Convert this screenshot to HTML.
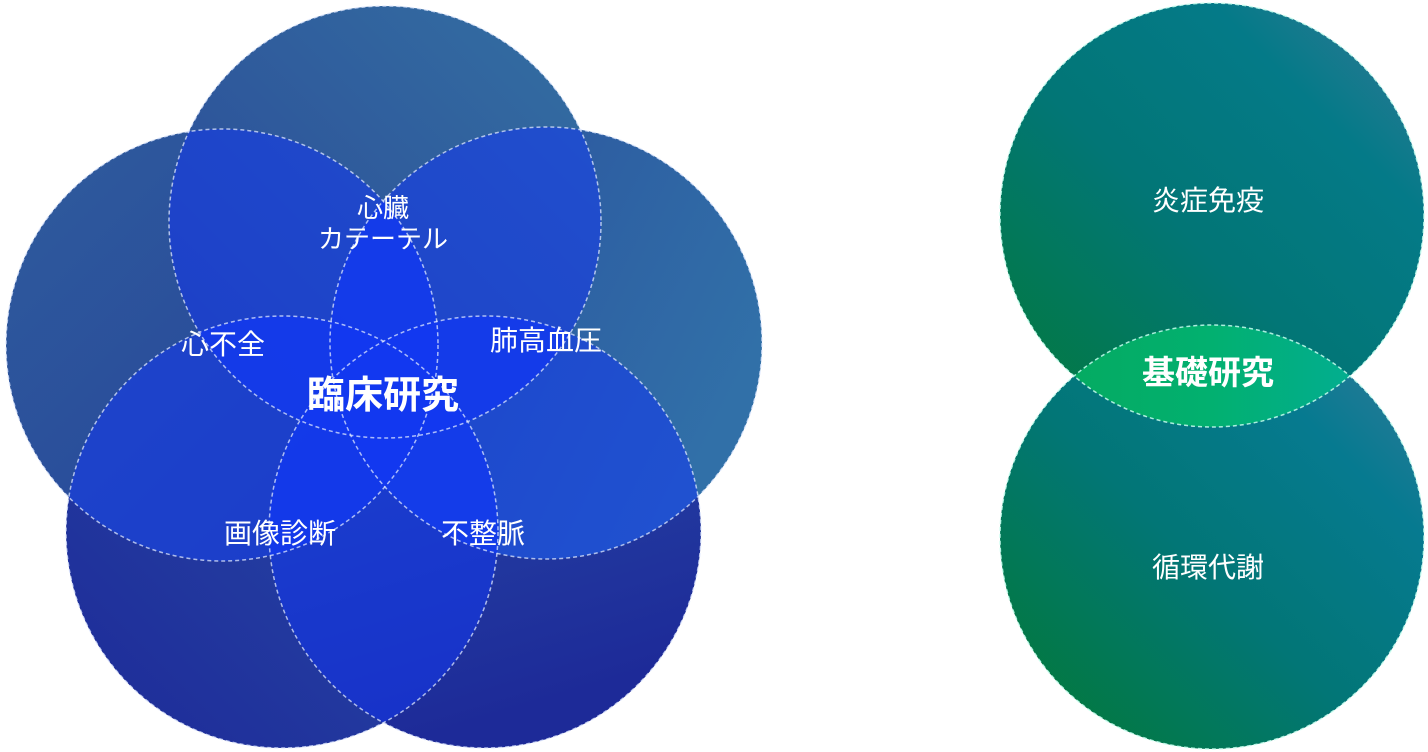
<!DOCTYPE html>
<html><head><meta charset="utf-8"><style>
html,body{margin:0;padding:0;background:#fff;width:1428px;height:752px;overflow:hidden}
svg{display:block}
text{font-family:"Liberation Sans","Noto Sans CJK JP",sans-serif;fill:#fff;text-anchor:middle}
</style></head><body>
<svg width="1428" height="752" viewBox="0 0 1428 752" xmlns="http://www.w3.org/2000/svg">
<defs>
<linearGradient id="gT" x1="0" y1="1" x2="1" y2="0"><stop offset="0" stop-color="#2a4596"/><stop offset="1" stop-color="#3470a2"/></linearGradient>
<linearGradient id="gL" x1="0" y1="0" x2="1" y2="1"><stop offset="0" stop-color="#2f5c9c"/><stop offset="1" stop-color="#25409a"/></linearGradient>
<linearGradient id="gR" x1="0" y1="0" x2="1" y2="0.5"><stop offset="0" stop-color="#2a4d9c"/><stop offset="1" stop-color="#3170a8"/></linearGradient>
<linearGradient id="gBL" x1="0" y1="1" x2="1" y2="0"><stop offset="0" stop-color="#1d2a98"/><stop offset="1" stop-color="#2a4ea8"/></linearGradient>
<linearGradient id="gBR" x1="0" y1="0" x2="0.3" y2="1"><stop offset="0" stop-color="#2a50aa"/><stop offset="1" stop-color="#1d2a98"/></linearGradient>
<linearGradient id="gG1" x1="0" y1="1" x2="1" y2="0"><stop offset="0" stop-color="#037a38"/><stop offset="0.45" stop-color="#027676"/><stop offset="0.75" stop-color="#047a88"/><stop offset="1" stop-color="#3a7898"/></linearGradient>
<linearGradient id="gG2" x1="0" y1="1" x2="1" y2="0"><stop offset="0" stop-color="#037a30"/><stop offset="0.45" stop-color="#027676"/><stop offset="0.75" stop-color="#067a90"/><stop offset="1" stop-color="#3a7a9c"/></linearGradient>
<linearGradient id="gLens" x1="0" y1="0" x2="1" y2="0"><stop offset="0" stop-color="#06a85a"/><stop offset="0.5" stop-color="#02b070"/><stop offset="1" stop-color="#02aca0"/></linearGradient>
<clipPath id="cT"><circle cx="385" cy="222" r="216"/></clipPath>
<clipPath id="cL"><circle cx="222" cy="345" r="216"/></clipPath>
<clipPath id="cR"><circle cx="546" cy="343" r="216"/></clipPath>
<clipPath id="cBL"><circle cx="282" cy="532" r="216"/></clipPath>
<clipPath id="cBR"><circle cx="485" cy="532" r="216"/></clipPath>
<clipPath id="cG1"><circle cx="1212" cy="215" r="212"/></clipPath>
</defs>
<circle cx="282" cy="532" r="216" fill="url(#gBL)"/>
<circle cx="485" cy="532" r="216" fill="url(#gBR)"/>
<circle cx="222" cy="345" r="216" fill="url(#gL)"/>
<circle cx="546" cy="343" r="216" fill="url(#gR)"/>
<circle cx="385" cy="222" r="216" fill="url(#gT)"/>
<g fill="#1238f0" fill-opacity="0.55">
<circle cx="222" cy="345" r="216" clip-path="url(#cT)"/>
<circle cx="546" cy="343" r="216" clip-path="url(#cT)"/>
<circle cx="282" cy="532" r="216" clip-path="url(#cT)"/>
<circle cx="485" cy="532" r="216" clip-path="url(#cT)"/>
<circle cx="546" cy="343" r="216" clip-path="url(#cL)"/>
<circle cx="282" cy="532" r="216" clip-path="url(#cL)"/>
<circle cx="485" cy="532" r="216" clip-path="url(#cL)"/>
<circle cx="282" cy="532" r="216" clip-path="url(#cR)"/>
<circle cx="485" cy="532" r="216" clip-path="url(#cR)"/>
<circle cx="485" cy="532" r="216" clip-path="url(#cBL)"/>
</g>
<g fill="none" stroke="#dfe8ff" stroke-opacity="0.75" stroke-width="1.5" stroke-dasharray="4 3">
<circle cx="385" cy="222" r="216"/>
<circle cx="222" cy="345" r="216"/>
<circle cx="546" cy="343" r="216"/>
<circle cx="282" cy="532" r="216"/>
<circle cx="485" cy="532" r="216"/>
</g>
<text x="383" y="217" font-size="26">心臓</text>
<text x="383" y="248" font-size="26">カテーテル</text>
<text x="223" y="354" font-size="28">心不全</text>
<text x="546" y="350" font-size="28">肺高血圧</text>
<text x="383" y="408" font-size="38" font-weight="bold">臨床研究</text>
<text x="280" y="543" font-size="28">画像診断</text>
<text x="483" y="543" font-size="28">不整脈</text>
<circle cx="1212" cy="215" r="212" fill="url(#gG1)"/>
<circle cx="1212" cy="537" r="212" fill="url(#gG2)"/>
<circle cx="1212" cy="537" r="212" fill="url(#gLens)" clip-path="url(#cG1)"/>
<g fill="none" stroke="#c8fff0" stroke-opacity="0.85" stroke-width="1.5" stroke-dasharray="4 3">
<circle cx="1212" cy="215" r="212"/>
<circle cx="1212" cy="537" r="212"/>
</g>
<text x="1208" y="210" font-size="28">炎症免疫</text>
<text x="1208" y="384" font-size="33" font-weight="bold">基礎研究</text>
<text x="1208" y="577" font-size="28">循環代謝</text>
</svg>
</body></html>
